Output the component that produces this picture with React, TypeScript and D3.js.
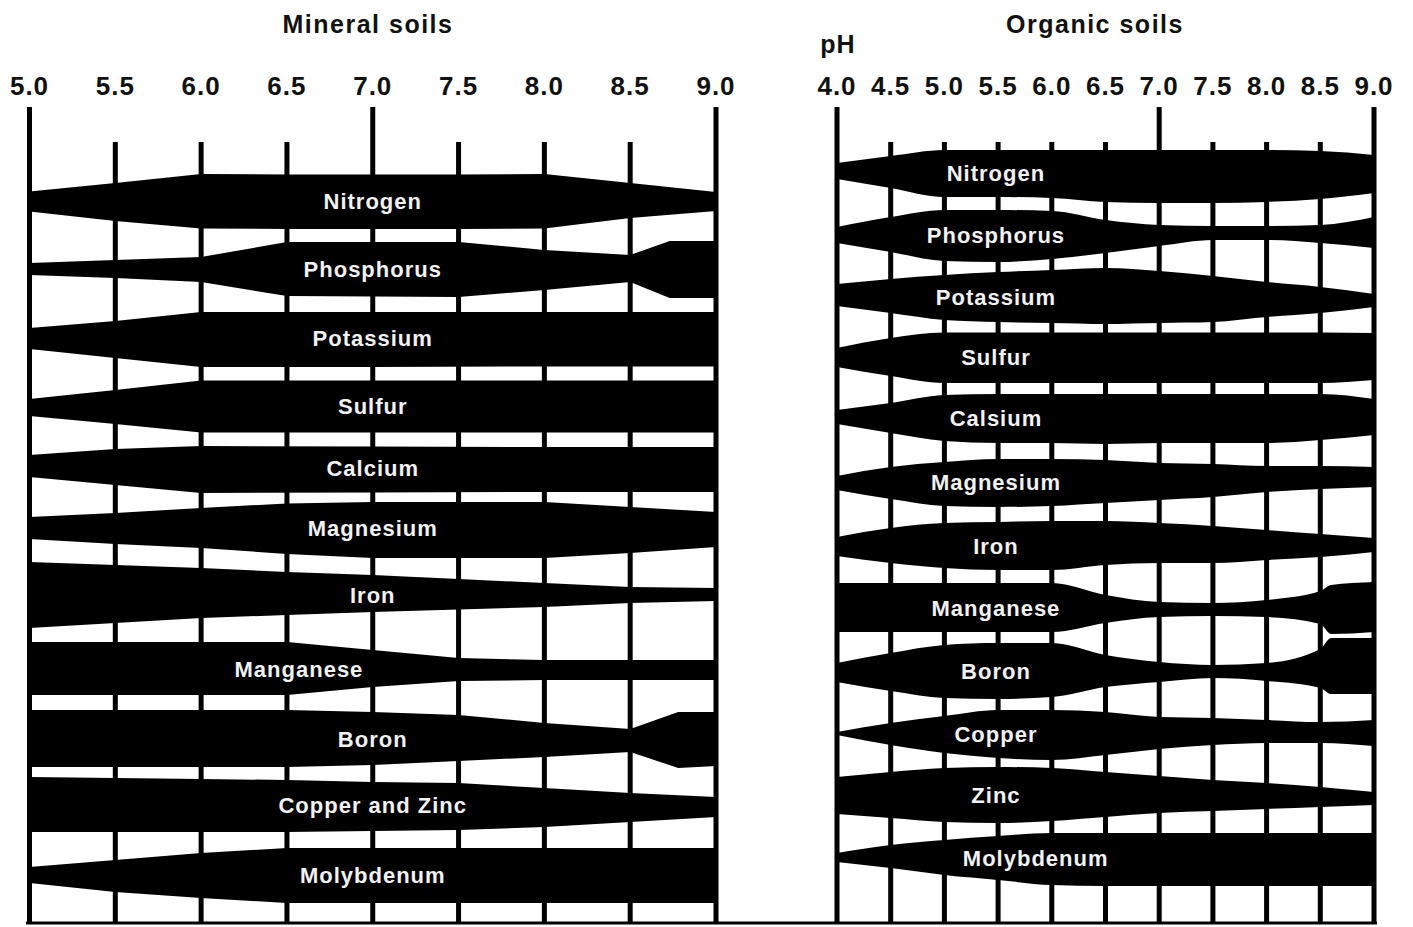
import React from "react";
import * as d3 from "d3";

type Pt = [number, number, number]; // [pH, upper half-width, lower half-width]

// ---------- Mineral soils ----------
const mineralTicks = [5.0, 5.5, 6.0, 6.5, 7.0, 7.5, 8.0, 8.5, 9.0];
const mineralMajor = [5.0, 7.0, 9.0];
const mineralNutrients = ["Nitrogen", "Phosphorus", "Potassium", "Sulfur", "Calcium", "Magnesium", "Iron", "Manganese", "Boron", "Copper and Zinc", "Molybdenum"];
const mineralRowCentre = [201.5, 269, 338.5, 406.5, 468.5, 528.5, 595, 669, 739, 805, 875.5];
const mineralLabelPH = [7, 7, 7, 7, 7, 7, 7, 6.57, 7, 7, 7];
const mineralBands: Pt[][] = [
  [[5, 10, 10], [5.5, 18.5, 19.5], [6, 27.5, 27], [6.5, 27, 27.5], [7, 27, 27.5], [7.5, 27, 27.5], [8, 27.5, 27], [8.5, 18.5, 16.5], [9, 9.5, 9.5]],
  [[5, 6, 6], [5.5, 9, 9], [6, 12, 13], [6.5, 27, 27], [7, 27, 27.5], [7.5, 27, 28], [8, 19, 21], [8.5, 14, 13], [8.73, 28, 29], [9, 28, 29]],
  [[5, 10.5, 10.5], [5.5, 17.5, 19.5], [6, 26.5, 28.5], [7, 26.5, 28.5], [8, 26.5, 28], [9, 26.5, 28]],
  [[5, 7.5, 9.5], [5.5, 16.5, 17.5], [6, 26, 26], [7, 26, 26], [8, 26, 26], [9, 26, 26]],
  [[5, 13.5, 8.5], [5.5, 19.5, 16.5], [6, 22.5, 24.5], [7, 22, 24], [8, 21.5, 23.5], [9, 21.5, 23.5]],
  [[5, 11.5, 10.5], [5.5, 15.5, 15.5], [6, 20.5, 19.5], [6.5, 25, 25.5], [7, 26.5, 29.5], [7.5, 26.5, 29.5], [8, 26.5, 29.5], [8.5, 21.5, 24.5], [9, 16.5, 18.5]],
  [[5, 33, 33], [5.5, 30, 28], [6, 27, 23], [6.5, 23, 20], [7, 20, 17], [7.5, 16, 14.5], [8, 12, 12], [8.5, 8, 8], [9, 7, 6]],
  [[5, 27, 26], [5.5, 27, 26], [6, 27, 26], [6.5, 27, 26], [7, 19, 18], [7.5, 11, 12], [8, 9, 11], [8.5, 9, 11], [9, 9, 11]],
  [[5, 29, 28], [6, 29, 28], [6.5, 29, 28], [7, 27, 26], [7.5, 24, 22], [8, 16, 18], [8.5, 10, 13], [8.78, 27, 29], [9, 27, 27]],
  [[5, 28, 27], [5.5, 27, 27], [6, 26, 27], [6.5, 25, 27], [7, 23, 26], [7.5, 22, 25], [8, 17, 22], [8.5, 12, 17], [9, 8, 12]],
  [[5, 8.5, 7.5], [5.5, 15.5, 16.5], [6, 22.5, 22.5], [6.5, 27.5, 27.5], [9, 27.5, 27.5]],
];

// ---------- Organic soils ----------
const organicTicks = [4.0, 4.5, 5.0, 5.5, 6.0, 6.5, 7.0, 7.5, 8.0, 8.5, 9.0];
const organicMajor = [4.0, 7.0, 9.0];
const organicNutrients = ["Nitrogen", "Phosphorus", "Potassium", "Sulfur", "Calsium", "Magnesium", "Iron", "Manganese", "Boron", "Copper", "Zinc", "Molybdenum"];
const organicRowCentre = [173, 235, 297.5, 357.5, 418, 482, 546, 608, 671, 734, 795.5, 858];
const organicLabelPH = [5.48, 5.48, 5.48, 5.48, 5.48, 5.48, 5.48, 5.48, 5.48, 5.48, 5.48, 5.85];
const organicBands: Pt[][] = [
  [[4, 10, 6], [4.5, 17, 15], [5, 23, 24], [5.5, 23, 24], [6, 23, 25], [6.5, 23, 29], [7, 23, 30], [7.5, 23, 30], [8, 23, 29], [8.5, 22, 26], [9, 18, 20]],
  [[4, 8, 8], [4.5, 18, 17], [5, 25, 26], [5.5, 25, 27], [6, 24, 24], [6.5, 15, 18], [7, 10, 11], [7.5, 9, 5], [8, 9, 5], [8.5, 10, 8], [9, 18, 13]],
  [[4, 13.5, 8.5], [4.5, 18.5, 15.5], [5, 22.5, 22.5], [5.5, 25.5, 24.5], [6, 27.5, 25.5], [6.5, 29.5, 26.5], [7, 26.5, 25.5], [7.5, 21.5, 24.5], [8, 15.5, 19.5], [8.5, 10.5, 15.5], [9, 3.5, 9.5]],
  [[4, 9.5, 9.5], [4.5, 19.5, 18.5], [5, 25, 25.5], [5.5, 25, 25.5], [6, 25, 25.5], [6.5, 25, 25.5], [7, 25, 25.5], [7.5, 25, 25.5], [8, 25, 25.5], [8.5, 25, 25.5], [9, 24.5, 22.5]],
  [[4, 8, 6], [4.5, 15, 15], [5, 23, 23], [5.5, 24, 25], [6, 24, 25], [6.5, 24, 26], [7, 24, 25], [7.5, 24, 25], [8, 24, 25], [8.5, 24, 22], [9, 19, 17]],
  [[4, 6, 8], [4.5, 15, 17], [5, 20, 24], [5.5, 23, 25], [6, 23, 24], [6.5, 22, 21], [7, 19, 18], [7.5, 18, 15], [8, 16, 10], [8.5, 16, 7], [9, 15, 5]],
  [[4, 9, 10], [4.5, 18, 17], [5, 23, 22], [5.5, 24, 24], [6, 25, 24], [6.5, 25, 19], [7, 23, 17], [7.5, 20, 17], [8, 16, 14], [8.5, 12, 11], [9, 8, 6]],
  [[4, 25, 24], [4.5, 25, 24], [5, 25, 24], [5.5, 25, 24], [6, 25, 24], [6.5, 13, 15], [7, 6, 9], [7.5, 5, 8], [8, 8, 9], [8.5, 17, 16], [8.6, 23, 26], [9, 26, 24]],
  [[4, 8, 11], [4.5, 18, 20], [5, 26, 27], [5.5, 28, 28], [6, 28, 26], [6.5, 16, 16], [7, 9, 11], [7.5, 6, 7], [8, 8, 10], [8.5, 22, 17], [8.6, 33, 23], [9, 33, 23]],
  [[4, 2, 1], [4.5, 11, 11], [5, 18, 19], [5.5, 24, 24], [6, 24, 26], [6.5, 22, 21], [7, 17, 15], [7.5, 16, 11], [8, 14, 9], [8.5, 12, 9], [9, 14, 12]],
  [[4, 18.5, 18.5], [4.5, 23.5, 22.5], [5, 27.5, 26.5], [5.5, 28.5, 27.5], [6, 27.5, 25.5], [6.5, 23.5, 21.5], [7, 19.5, 17.5], [7.5, 15.5, 15.5], [8, 12.5, 13.5], [8.5, 8.5, 11.5], [9, 3.5, 9.5]],
  [[4, 5, 4], [4.5, 13, 10], [5, 18, 17], [5.5, 22, 22], [6, 25, 27], [6.5, 25, 28], [7, 25, 28], [7.5, 25, 28], [8, 25, 28], [8.5, 25, 28], [9, 25, 28]],
];

const W = 1413;
const H = 927;
const FONT = "'Liberation Sans', Arial, Helvetica, sans-serif";
const TOP_MAJOR = 107;
const TOP_MINOR = 142;
const BOTTOM = 923;
const LINE_W = 5;

const y = d3.scaleLinear().domain([0, H]).range([0, H]);

interface PanelProps {
  x: d3.ScaleLinear<number, number>;
  ticks: number[];
  major: number[];
  names: string[];
  centres: number[];
  labelPH: number[];
  bands: Pt[][];
  curve: d3.CurveFactory;
}

function Panel({ x, ticks, major, names, centres, labelPH, bands, curve }: PanelProps) {
  return (
    <g>
      {ticks.map((t) => (
        <text
          key={"tl" + t}
          x={x(t)}
          y={95}
          textAnchor="middle"
          fontFamily={FONT}
          fontWeight="bold"
          fontSize={26}
          letterSpacing={1}
          fill="#111"
        >
          {t.toFixed(1)}
        </text>
      ))}
      {ticks.map((t) => (
        <line
          key={"tk" + t}
          x1={x(t)}
          x2={x(t)}
          y1={major.includes(t) ? TOP_MAJOR : TOP_MINOR}
          y2={BOTTOM}
          stroke="#000"
          strokeWidth={LINE_W}
        />
      ))}
      {bands.map((pts, i) => {
        const c = centres[i];
        const area = d3
          .area<Pt>()
          .x((d) => x(d[0]))
          .y0((d) => y(c - d[1]))
          .y1((d) => y(c + d[2]))
          .curve(curve);
        return <path key={"b" + i} d={area(pts) || ""} fill="#000" />;
      })}
      {names.map((n, i) => (
        <text
          key={"n" + i}
          x={x(labelPH[i])}
          y={y(centres[i])}
          dy="0.36em"
          textAnchor="middle"
          fontFamily={FONT}
          fontWeight="bold"
          fontSize={22}
          letterSpacing={1}
          fill="#f2f2f2"
        >
          {n}
        </text>
      ))}
    </g>
  );
}

export default function App() {
  const xm = d3.scaleLinear().domain([5, 9]).range([29.5, 716]);
  const xo = d3.scaleLinear().domain([4, 9]).range([837, 1374]);
  return (
    <svg
      width={W}
      height={H}
      viewBox={`0 0 ${W} ${H}`}
      style={{ position: "absolute", left: 0, top: 0, background: "#fff" }}
    >
      <rect x={0} y={0} width={W} height={H} fill="#fff" />
      <text x={368} y={33} textAnchor="middle" fontFamily={FONT} fontWeight="bold" fontSize={25} letterSpacing={1.5} fill="#111">
        Mineral soils
      </text>
      <text x={1095} y={33} textAnchor="middle" fontFamily={FONT} fontWeight="bold" fontSize={25} letterSpacing={1.5} fill="#111">
        Organic soils
      </text>
      <text x={838} y={53} textAnchor="middle" fontFamily={FONT} fontWeight="bold" fontSize={25} letterSpacing={1} fill="#111">
        pH
      </text>
      <Panel x={xm} ticks={mineralTicks} major={mineralMajor} names={mineralNutrients} centres={mineralRowCentre} labelPH={mineralLabelPH} bands={mineralBands} curve={d3.curveLinear} />
      <Panel x={xo} ticks={organicTicks} major={organicMajor} names={organicNutrients} centres={organicRowCentre} labelPH={organicLabelPH} bands={organicBands} curve={d3.curveMonotoneX} />
      <line x1={26} x2={1377} y1={BOTTOM} y2={BOTTOM} stroke="#000" strokeWidth={3} />
    </svg>
  );
}
